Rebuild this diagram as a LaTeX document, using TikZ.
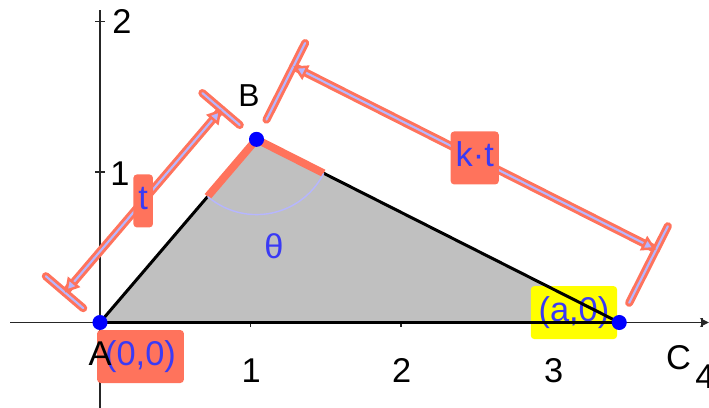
\documentclass[tikz,border=0pt]{standalone}
\usepackage{fontspec}
\setmainfont{Liberation Sans}
\usepackage{xcolor}
\usetikzlibrary{arrows.meta,calc}

\definecolor{ggred}{RGB}{255,115,92}
\definecolor{gglav}{RGB}{182,182,255}
\definecolor{ggblue}{RGB}{58,58,245}
\definecolor{gggray}{RGB}{192,192,192}
\definecolor{ggyellow}{RGB}{255,255,0}

\tikzset{
  axisline/.style={black!85, line width=1.1pt},
  edgeline/.style={black, line width=1.7pt},
  armline/.style={ggred, line width=4.4pt, line join=round},
  anglearc/.style={gglav, line width=0.8pt},
  dimouter/.style={ggred, line width=4.6pt, line cap=round},
  diminner/.style={gglav, line width=1.2pt, line cap=round},
  dimarrows/.style={arrows={Triangle[length=8pt,width=9pt,color=ggred,fill=gglav,line width=1.4pt]-Triangle[length=8pt,width=9pt,color=ggred,fill=gglav,line width=1.4pt]}},
  valbox/.style={fill=ggred, text=ggblue, rounded corners=2pt, inner xsep=0.1cm,
    inner ysep=0pt, text height=14pt, text depth=4pt, minimum height=1.056cm},
  ptdot/.style={circle, fill=blue, inner sep=0pt, minimum size=0.3cm},
}

\begin{document}
\begin{tikzpicture}[x=3cm, y=3cm, font=\fontsize{19.5}{22}\selectfont]

  \useasboundingbox (-0.6645,-0.5615) rectangle (4.0465,2.1429);
  \clip (-0.6645,-0.5615) rectangle (4.0465,2.1429);

  % -- axes -----------------------------------------------------------------
  \coordinate (xmin) at (-0.598,0);
  \coordinate (xmax) at (4.045,0);
  \coordinate (ymin) at (0,-0.6);
  \coordinate (ymax) at (0,2.076);
  \draw[axisline, -{Stealth[length=5pt,width=5pt]}] (xmin) -- (xmax);
  \draw[axisline] (ymin) -- (ymax);
  \draw[axisline] (1,-0.03) -- (1,0.03);
  \draw[axisline] (2,-0.03) -- (2,0.03);
  \draw[axisline] (3,-0.03) -- (3,0.03);
  \draw[axisline] (4,-0.03) -- (4,0.03);
  \draw[axisline] (-0.03,1) -- (0.03,1);
  \draw[axisline] (-0.03,2) -- (0.03,2);

  \node (xt1) at (1.005,-0.32) {1};
  \node (xt2) at (2.004,-0.32) {2};
  \node (xt3) at (3.015,-0.32) {3};
  \node (xt4) at (4.02,-0.36) {4};
  \node (yt1) at (0.133,0.99) {1};
  \node (yt2) at (0.146,2.0) {2};

  % -- triangle ABC -----------------------------------------------------------
  \coordinate (A) at (0,0);
  \coordinate (B) at (1.04,1.217);
  \coordinate (C) at (3.45,0);
  \coordinate (armA) at ($(B)!1.5cm!(A)$);
  \coordinate (armC) at ($(B)!1.5cm!(C)$);

  \fill[gggray] (A) -- (B) -- (C) -- cycle;

  % value boxes that sit under the sides
  \node[valbox, fill=ggyellow, minimum width=1.72cm] (aval) at (3.149,0.066) {(a,0)};
  \node[valbox, minimum width=1.73cm] (oval) at (0.269,-0.226) {(0,0)};

  \draw[edgeline] (A) -- (armA);
  \draw[edgeline] (armC) -- (C);
  \draw[edgeline] (A) -- (C);
  \draw[armline] (armA) -- (B) -- (armC);
  \draw[anglearc] (armA) arc[start angle=229.48, end angle=333.21, radius=0.5];
  \node[text=ggblue] (theta) at (1.156,0.504) {θ};

  % -- dimension t along AB ----------------------------------------------------
  \coordinate (tA) at ($(A)!0.92cm!90:(B)$);
  \coordinate (tB) at ($(B)!0.92cm!-90:(A)$);
  \coordinate (tAin) at ($(A)!0.44cm!90:(B)$);
  \coordinate (tAout) at ($(A)!1.42cm!90:(B)$);
  \coordinate (tBin) at ($(B)!0.44cm!-90:(A)$);
  \coordinate (tBout) at ($(B)!1.42cm!-90:(A)$);
  \draw[dimouter] (tAin) -- (tAout);
  \draw[dimouter] (tBin) -- (tBout);
  \draw[dimouter] (tA) -- (tB);
  \draw[diminner] (tAin) -- (tAout);
  \draw[diminner] (tBin) -- (tBout);
  \draw[diminner, dimarrows] (tA) -- (tB);

  % -- dimension k.t along BC ---------------------------------------------------
  \coordinate (kB) at ($(B)!1.63cm!90:(C)$);
  \coordinate (kC) at ($(C)!1.63cm!-90:(B)$);
  \coordinate (kBin) at ($(B)!0.44cm!90:(C)$);
  \coordinate (kBout) at ($(B)!2.15cm!90:(C)$);
  \coordinate (kCin) at ($(C)!0.44cm!-90:(B)$);
  \coordinate (kCout) at ($(C)!2.15cm!-90:(B)$);
  \draw[dimouter] (kBin) -- (kBout);
  \draw[dimouter] (kCin) -- (kCout);
  \draw[dimouter] (kB) -- (kC);
  \draw[diminner] (kBin) -- (kBout);
  \draw[diminner] (kCin) -- (kCout);
  \draw[diminner, dimarrows] (kB) -- (kC);

  \node[valbox] (tval) at ($(tA)!0.5!(tB)$) {t};
  \node[valbox] (ktval) at ($(kB)!0.5!(kC)$) {k·t};

  % -- points and their names -------------------------------------------------
  \node[ptdot] (dotA) at (A) {};
  \node[ptdot] (dotB) at (B) {};
  \node[ptdot] (dotC) at (C) {};
  \node (labA) at (0,-0.205) {A};
  \node[font=\fontsize{18}{21}\selectfont] (labB) at (0.99,1.505) {B};
  \node (labC) at (3.844,-0.233) {C};

\end{tikzpicture}
\end{document}
